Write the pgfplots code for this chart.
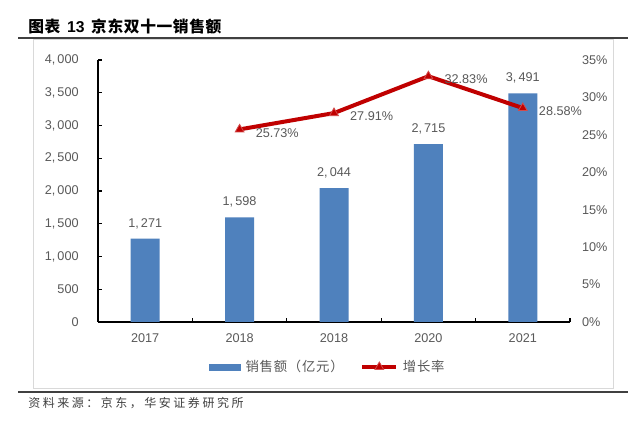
\documentclass[border=0pt]{standalone}
\usepackage{pgfplots}
\pgfplotsset{compat=1.18}
\usepackage{fontspec}
\setmainfont{Liberation Sans}
\newfontfamily\cjk{Noto Sans CJK SC}
\newfontfamily\cjkleg[LetterSpace=6]{Noto Sans CJK SC}
\definecolor{barblue}{HTML}{4F81BD}
\definecolor{linered}{HTML}{C00000}
\definecolor{labelgray}{HTML}{595959}
\definecolor{rulegray}{HTML}{404040}
\definecolor{framegray}{HTML}{D9D9D9}
\begin{document}
\begin{tikzpicture}
\begin{scope}[x=0.75pt,y=0.75pt]
\path[use as bounding box, fill=white] (0,0) rectangle (641,424);
\draw[framegray, line width=0.75pt] (33,384) rectangle (613,36);
\draw[rulegray, line width=1pt] (18,386) -- (628,386);
\draw[rulegray, line width=1pt] (18,32) -- (628,32);
\node[anchor=west, inner sep=0pt, font=\fontsize{11.8}{13}\selectfont\bfseries] at (28,398)
  {\cjk\addfontfeatures{LetterSpace=4}图表\hspace{5pt}\rmfamily 13\hspace{5pt}\cjk\addfontfeatures{LetterSpace=4}京东双十一销售额};
\node[anchor=west, inner sep=0pt, text=rulegray, font=\fontsize{9}{11}\selectfont] at (28,21)
  {\cjk\addfontfeatures{LetterSpace=21}资料来源：京东，华安证券研究所};
\end{scope}

\begin{axis}[
  at={(73.5pt,76.5pt)}, anchor=south west,
  scale only axis, width=354pt, height=196.5pt,
  xmin=-0.5, xmax=4.5, ymin=0, ymax=4000,
  clip=false,
  axis x line*=bottom, axis y line*=left,
  axis line style={black, line width=0.9pt},
  xtick={0,1,2,3,4}, xticklabels={2017,2018,2018,2020,2021},
  minor xtick={-0.5,0.5,1.5,2.5,3.5,4.5},
  major x tick style={draw=none},
  minor x tick style={black, line width=0.9pt},
  minor tick length=3pt, major tick length=3pt,
  tick align=inside,
  ytick={0,500,...,4000},
  y tick style={black, line width=0.9pt},
  ticklabel style={font=\fontsize{9.5}{11}\selectfont, text=labelgray},
  yticklabel style={xshift=-11pt},
  xticklabel style={yshift=-5.5pt},
  /pgf/number format/1000 sep={,\,},
  /pgf/number format/assume math mode=true,
]
\addplot[ybar, bar width=21.75pt, fill=barblue, draw=none,
  nodes near coords,
  every node near coord/.append style={font=\fontsize{9.5}{11}\selectfont, text=labelgray, yshift=4pt}]
  coordinates {(0,1271) (1,1598) (2,2044) (3,2715) (4,3491)};
\end{axis}

\begin{axis}[
  at={(73.5pt,76.5pt)}, anchor=south west,
  scale only axis, width=354pt, height=196.5pt,
  xmin=-0.5, xmax=4.5, ymin=0, ymax=35,
  clip=false,
  axis x line=none, axis y line*=right,
  y axis line style={draw=none},
  ytick={0,5,...,35},
  yticklabel={\pgfmathprintnumber{\tick}\%},
  major tick length=0pt,
  ticklabel style={font=\fontsize{9.5}{11}\selectfont, text=labelgray},
  yticklabel style={xshift=5.5pt},
  /pgf/number format/assume math mode=true,
  legend style={at={(axis description cs:0.490,-0.172)}, anchor=center,
    draw=none, fill=none, legend columns=2,
    font=\fontsize{10}{12}\selectfont\cjkleg, text=labelgray,
    nodes={inner xsep=3.5pt},
    /tikz/every even column/.append style={column sep=9pt}},
]
\addlegendimage{legend image code/.code={\fill[barblue] (0pt,-2.25pt) rectangle (23.25pt,2.25pt);}}
\addlegendentry{销售额（亿元）}
\addplot[linered, line width=3pt, mark=triangle*, mark size=3.8pt,
  mark options={fill=linered, draw=linered!70!white, line width=0.6pt},
  legend image code/.code={\draw[mark repeat=2,mark phase=2] plot coordinates {(0pt,0pt)(12.75pt,0pt)(25.5pt,0pt)};},
  nodes near coords={\pgfmathprintnumber[fixed,fixed zerofill,precision=2]{\pgfplotspointmeta}\%},
  every node near coord/.append style={anchor=west, xshift=8.5pt, yshift=-2.5pt, font=\fontsize{9.5}{11}\selectfont, text=labelgray}]
  coordinates {(1,25.73) (2,27.91) (3,32.83) (4,28.58)};
\addlegendentry{增长率}
\end{axis}
\end{tikzpicture}
\end{document}
